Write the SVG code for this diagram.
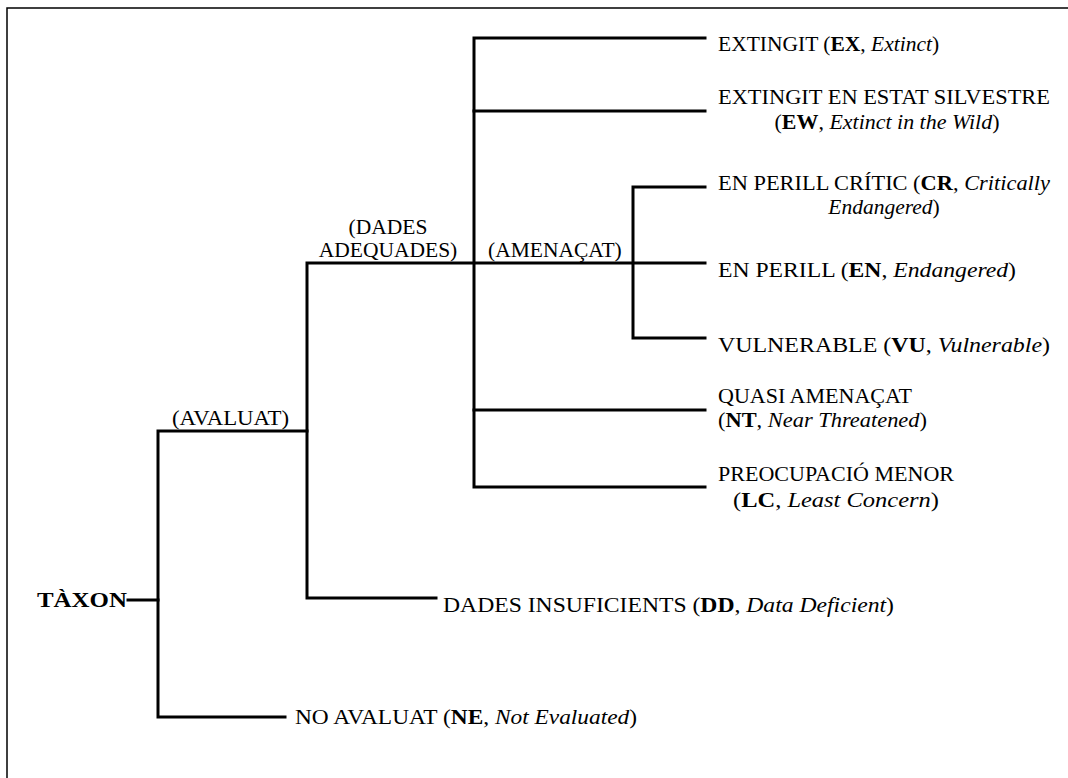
<svg xmlns="http://www.w3.org/2000/svg" width="1068" height="778" viewBox="0 0 1068 778">
  <style>
    text { font-family: "Liberation Serif", "Times New Roman", serif; font-size: 21.5px; fill: #000; }
    .b { font-weight: bold; }
    .i { font-style: italic; }
    .c { text-anchor: middle; }
    .frame { fill: none; stroke: #000; stroke-width: 1.5; }
    .edge { fill: none; stroke: #000; stroke-width: 3; stroke-linecap: square; stroke-linejoin: miter; }
  </style>
  <rect width="1068" height="778" fill="#fff"/>
  <!-- page frame: top and left rules only -->
  <path class="frame" d="M7 778 V8 H1068"/>

  <g id="connectors">
    <path class="edge" d="M128 600 H158"/>
    <path class="edge" d="M285 717 H158 V431 H307"/>
    <path class="edge" d="M436 598 H307 V263 H705"/>
    <path class="edge" d="M705 38 H474 V487 H705"/>
    <path class="edge" d="M474 111 H705"/>
    <path class="edge" d="M474 410 H705"/>
    <path class="edge" d="M705 187 H633 V338 H705"/>
  </g>

  <g id="taxon"><text class="b" x="37" y="607" textLength="90" lengthAdjust="spacingAndGlyphs">TÀXON</text></g>
  <g id="avaluat"><text x="172" y="425" textLength="117" lengthAdjust="spacingAndGlyphs">(AVALUAT)</text></g>
  <g id="dades-adequades">
    <text class="c" x="388" y="234">(DADES</text>
    <text class="c" x="388" y="257">ADEQUADES)</text>
  </g>
  <g id="amenacat"><text x="488" y="257">(AMENAÇAT)</text></g>

  <g id="ex"><text x="718" y="51">EXTINGIT (<tspan class="b">EX</tspan>, <tspan class="i">Extinct</tspan>)</text></g>
  <g id="ew">
    <text class="c" x="884" y="104" textLength="332" lengthAdjust="spacingAndGlyphs">EXTINGIT EN ESTAT SILVESTRE</text>
    <text class="c" x="887" y="129" textLength="225" lengthAdjust="spacingAndGlyphs">(<tspan class="b">EW</tspan>, <tspan class="i">Extinct in the Wild</tspan>)</text>
  </g>
  <g id="cr">
    <text class="c" x="884" y="190" textLength="332" lengthAdjust="spacingAndGlyphs">EN PERILL CRÍTIC (<tspan class="b">CR</tspan>, <tspan class="i">Critically</tspan></text>
    <text class="c" x="884" y="214"><tspan class="i">Endangered</tspan>)</text>
  </g>
  <g id="en"><text x="718" y="277" textLength="298" lengthAdjust="spacingAndGlyphs">EN PERILL (<tspan class="b">EN</tspan>, <tspan class="i">Endangered</tspan>)</text></g>
  <g id="vu"><text x="718" y="352" textLength="332" lengthAdjust="spacingAndGlyphs">VULNERABLE (<tspan class="b">VU</tspan>, <tspan class="i">Vulnerable</tspan>)</text></g>
  <g id="nt">
    <text x="718" y="403" textLength="194" lengthAdjust="spacingAndGlyphs">QUASI AMENAÇAT</text>
    <text x="718" y="427" textLength="209" lengthAdjust="spacingAndGlyphs">(<tspan class="b">NT</tspan>, <tspan class="i">Near Threatened</tspan>)</text>
  </g>
  <g id="lc">
    <text class="c" x="836" y="481" textLength="236" lengthAdjust="spacingAndGlyphs">PREOCUPACIÓ MENOR</text>
    <text class="c" x="836" y="507" textLength="206" lengthAdjust="spacingAndGlyphs">(<tspan class="b">LC</tspan>, <tspan class="i">Least Concern</tspan>)</text>
  </g>
  <g id="dd"><text x="443" y="612" textLength="451" lengthAdjust="spacingAndGlyphs">DADES INSUFICIENTS (<tspan class="b">DD</tspan>, <tspan class="i">Data Deficient</tspan>)</text></g>
  <g id="ne"><text x="295" y="724" textLength="342" lengthAdjust="spacingAndGlyphs">NO AVALUAT (<tspan class="b">NE</tspan>, <tspan class="i">Not Evaluated</tspan>)</text></g>
</svg>
